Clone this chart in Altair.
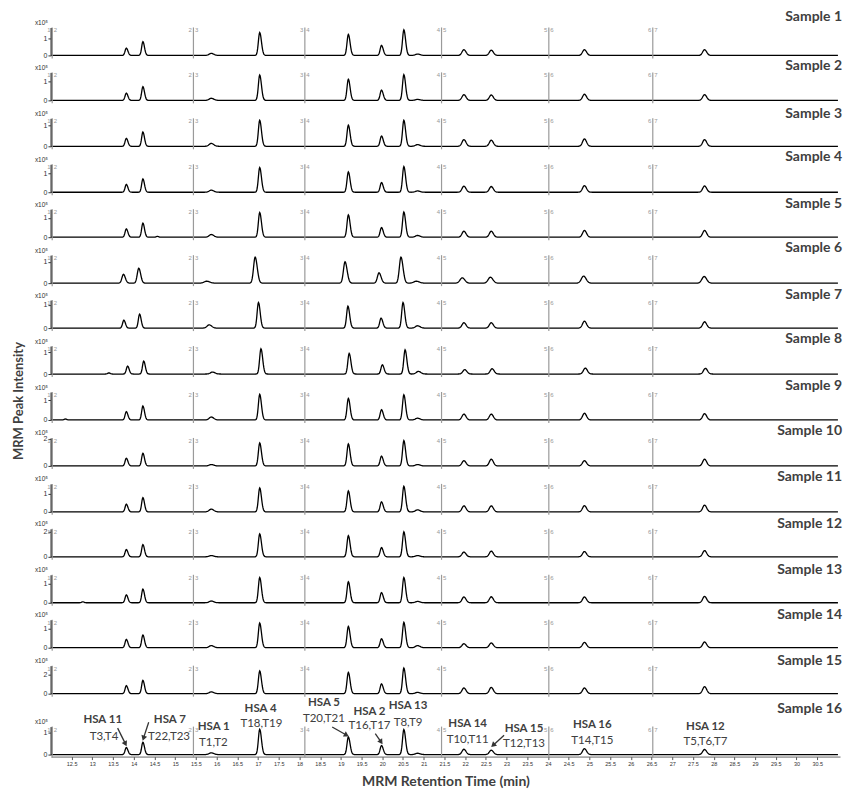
import altair as alt
import numpy as np
import pandas as pd

# ---------------- data ----------------
SAMPLES = [f"Sample {i}" for i in range(1, 17)]

# retention times (min) of the 12 traced peaks
RT_COMMON = [13.82, 14.22, 15.87, 17.04, 19.18, 19.98, 20.52, 20.85, 21.97, 22.63, 24.88, 27.78]
RT_SAMPLE6 = [13.75, 14.12, 15.76, 16.93, 19.10, 19.92, 20.45, 20.82, 21.93, 22.61, 24.86, 27.77]
RT_SAMPLE7 = [13.76, 14.14, 15.82, 17.01, 19.17, 19.97, 20.50, 20.85, 21.97, 22.63, 24.88, 27.78]
RT_SAMPLE8 = [13.85, 14.24, 15.90, 17.07, 19.20, 20.00, 20.55, 20.87, 21.99, 22.65, 24.90, 27.80]

# peak widths (sigma, min) left / right of apex
SIGMA_LEFT = [0.030, 0.030, 0.050, 0.032, 0.032, 0.032, 0.032, 0.050, 0.045, 0.045, 0.045, 0.045]
SIGMA_RIGHT = [0.038, 0.038, 0.060, 0.042, 0.042, 0.042, 0.042, 0.060, 0.050, 0.050, 0.050, 0.050]

# apex intensities (x10^5) per sample, same peak order as RT lists
HEIGHTS = [
    [0.43, 0.81, 0.12, 1.35, 1.24, 0.59, 1.51, 0.08, 0.34, 0.31, 0.34, 0.34],
    [0.38, 0.72, 0.11, 1.33, 1.11, 0.54, 1.35, 0.05, 0.30, 0.28, 0.32, 0.30],
    [0.38, 0.68, 0.14, 1.24, 1.01, 0.49, 1.24, 0.08, 0.32, 0.29, 0.35, 0.32],
    [0.41, 0.70, 0.11, 1.30, 1.07, 0.51, 1.35, 0.07, 0.32, 0.30, 0.35, 0.33],
    [0.43, 0.73, 0.14, 1.28, 1.16, 0.50, 1.31, 0.09, 0.31, 0.31, 0.35, 0.35],
    [0.41, 0.70, 0.09, 1.22, 1.00, 0.48, 1.22, 0.09, 0.25, 0.28, 0.33, 0.31],
    [0.34, 0.60, 0.14, 1.10, 0.94, 0.43, 1.10, 0.10, 0.23, 0.23, 0.30, 0.27],
    [0.36, 0.59, 0.09, 1.15, 0.94, 0.42, 1.10, 0.12, 0.20, 0.24, 0.27, 0.26],
    [0.42, 0.71, 0.15, 1.30, 1.10, 0.52, 1.28, 0.09, 0.30, 0.30, 0.34, 0.32],
    [0.57, 0.94, 0.10, 1.70, 1.63, 0.72, 1.87, 0.10, 0.39, 0.50, 0.39, 0.50],
    [0.42, 0.78, 0.15, 1.31, 1.15, 0.55, 1.40, 0.11, 0.33, 0.33, 0.34, 0.37],
    [0.58, 0.98, 0.10, 1.84, 1.70, 0.74, 2.00, 0.10, 0.38, 0.46, 0.42, 0.50],
    [0.41, 0.71, 0.09, 1.31, 1.09, 0.53, 1.31, 0.07, 0.30, 0.31, 0.30, 0.33],
    [0.44, 0.67, 0.11, 1.30, 1.12, 0.47, 1.33, 0.11, 0.21, 0.25, 0.28, 0.30],
    [0.83, 1.38, 0.18, 2.35, 2.21, 1.01, 2.66, 0.13, 0.59, 0.65, 0.59, 0.73],
    [0.32, 0.56, 0.08, 1.15, 0.80, 0.41, 1.14, 0.06, 0.24, 0.20, 0.27, 0.23],
]

# small isolated blips: (sample index, time, intensity)
BLIP_SAMPLE = [4, 7, 8, 12]
BLIP_TIME = [14.57, 13.40, 12.35, 12.77]
BLIP_HEIGHT = [0.04, 0.05, 0.05, 0.05]

# y-axis upper limit and labelled tick per panel (x10^5)
Y_MAX = [1.65, 1.47, 1.33, 1.47, 1.45, 1.31, 1.20, 1.27, 1.42, 2.07, 1.53, 2.24, 1.45, 1.47, 2.90, 1.27]
TICK_VALUE = [1, 1, 1, 1, 1, 1, 1, 1, 1, 2, 1, 2, 1, 1, 2, 1]

# MRM segment boundaries
SEG_TIME = [12.03, 15.44, 18.13, 21.43, 24.02, 26.53]
SEG_LEFT = ["1", "2", "3", "4", "5", "6"]
SEG_RIGHT = ["2", "3", "4", "5", "6", "7"]

X_TICKS = [12.5 + 0.5 * k for k in range(37)]

# annotations on the last panel
ANN_NAME = ["HSA 11", "HSA 7", "HSA 1", "HSA 4", "HSA 5", "HSA 2", "HSA 13", "HSA 14", "HSA 15", "HSA 16", "HSA 12"]
ANN_NAME_T = [13.25, 14.87, 15.93, 17.06, 18.59, 19.69, 20.62, 22.06, 23.42, 25.07, 27.80]
ANN_NAME_Y = [1.56, 1.56, 1.23, 2.09, 2.32, 1.94, 2.20, 1.38, 1.18, 1.33, 1.25]
ANN_SUB = ["T3,T4", "T22,T23", "T1,T2", "T18,T19", "T20,T21", "T16,T17", "T8,T9", "T10,T11", "T12,T13", "T14,T15", "T5,T6,T7"]
ANN_SUB_T = [13.28, 14.85, 15.92, 17.08, 18.59, 19.69, 20.62, 22.06, 23.42, 25.07, 27.80]
ANN_SUB_Y = [0.80, 0.80, 0.53, 1.41, 1.60, 1.30, 1.45, 0.65, 0.50, 0.62, 0.55]

ARROW_T1 = [13.61, 14.36, 18.79, 19.83, 22.94]
ARROW_Y1 = [1.20, 1.47, 1.25, 0.95, 0.88]
ARROW_T2 = [13.79, 14.24, 19.12, 19.96, 22.69]
ARROW_Y2 = [0.52, 0.78, 0.90, 0.60, 0.45]
ARROW_ANGLE = [153, 198, 119, 146, 228]

# ---------------- layout / style ----------------
W = 790
PLOT_H = 28
# whole-pixel panel heights (panel 1 holds only its plot; others include the gap above)
PANEL_H = [28, 45, 46, 46, 45, 46, 45, 46, 46, 46, 46, 45, 46, 45, 46, 61]
LABEL_GAP = [10.5, 6.3, 4.5, 7, 5.5, 6.7, 5.5, 7.4, 6, 7.3, 7, 4.7, 4.7, 4.5, 4.5, 17.7]
FONT = "Lato"
TXT = "#404040"


def trace(i):
    rts = RT_COMMON
    widen = 1.0
    if i == 5:
        rts, widen = RT_SAMPLE6, 1.2
    elif i == 6:
        rts = RT_SAMPLE7
    elif i == 7:
        rts = RT_SAMPLE8
    pts = [np.arange(12.0, 31.06, 0.25)]
    for rt in rts:
        pts.append(np.arange(rt - 0.35, rt + 0.35, 0.01))
    blips = [(t, h) for s, t, h in zip(BLIP_SAMPLE, BLIP_TIME, BLIP_HEIGHT) if s == i]
    for t, _ in blips:
        pts.append(np.arange(t - 0.2, t + 0.2, 0.01))
    t = np.unique(np.round(np.concatenate(pts), 3))
    t = t[(t >= 12.0) & (t <= 31.05)]
    v = np.zeros_like(t)
    for rt, h, sl, sr in zip(rts, HEIGHTS[i], SIGMA_LEFT, SIGMA_RIGHT):
        sig = np.where(t < rt, sl, sr) * widen
        v += h * np.exp(-0.5 * ((t - rt) / sig) ** 2)
    for bt, bh in blips:
        v += bh * np.exp(-0.5 * ((t - bt) / 0.03) ** 2)
    return pd.DataFrame({"t": t, "v": v})


seg_df = pd.DataFrame({"t": SEG_TIME, "left": SEG_LEFT, "right": SEG_RIGHT})
xs = alt.Scale(domain=[12.0, 31.05], nice=False, zero=False)


def panel(i):
    H = PANEL_H[i]
    top = H - PLOT_H
    ys = alt.Scale(domain=[0, Y_MAX[i]], range=[H, top], nice=False, zero=True)
    last = i == 15
    if last:
        xaxis = alt.Axis(values=X_TICKS, format=".1~f", labelFontSize=5.5, labelColor="#333",
                         tickSize=3, tickColor="#555", domainColor="#666", offset=2,
                         labelPadding=2, grid=False, title="MRM Retention Time (min)",
                         titleFont=FONT, titleFontSize=14, titleFontWeight="bold",
                         titleColor=TXT, titlePadding=7)
    else:
        xaxis = None
    yaxis = alt.Axis(values=[0, TICK_VALUE[i]], format="d", labelFontSize=7, labelColor="#333",
                     labelPadding=1, tickSize=3, tickColor="#333", domainColor="#444",
                     domainWidth=2, grid=False,
                     title="x10⁵", titleAngle=0, titleX=-10, titleY=top - 5, titleFontSize=6.5,
                     titleFontWeight="normal", titleAlign="center", titleBaseline="middle",
                     titleColor="#333")
    X = lambda f: alt.X(f, scale=xs, axis=xaxis)
    Y = lambda f: alt.Y(f, scale=ys, axis=yaxis)
    rules = alt.Chart(seg_df).mark_rule(color="#9a9a9a", strokeWidth=1.2).encode(
        x=X("t:Q"), y=alt.value(top), y2=alt.value(H + 3))
    ldig = alt.Chart(seg_df).mark_text(fontSize=6, color="#999", align="right", baseline="middle",
                                       dx=-1.5).encode(
        x=X("t:Q"), y=alt.value(top + 3), text="left:N")
    rdig = alt.Chart(seg_df).mark_text(fontSize=6, color="#999", align="left", baseline="middle",
                                       dx=1.5).encode(
        x=X("t:Q"), y=alt.value(top + 3), text="right:N")
    line = alt.Chart(trace(i)).mark_line(color="black", strokeWidth=1.3).encode(
        x=X("t:Q"), y=Y("v:Q"))
    lab = alt.Chart(pd.DataFrame({"s": [SAMPLES[i]]})).mark_text(
        align="right", baseline="middle", fontSize=14, fontWeight="bold", font=FONT, color=TXT
    ).encode(x=alt.value(W + 2), y=alt.value(top - LABEL_GAP[i]), text="s:N")
    layers = [line, rules, ldig, rdig, lab]
    if i == 8:
        ytitle = alt.Chart(pd.DataFrame({"s": ["MRM Peak Intensity"]})).mark_text(
            angle=270, align="center", baseline="middle", fontSize=13, fontWeight="bold",
            font=FONT, color=TXT).encode(x=alt.value(-32), y=alt.value(27), text="s:N")
        layers.append(ytitle)
    if last:
        ann = pd.DataFrame({"name": ANN_NAME, "t": ANN_NAME_T, "y": ANN_NAME_Y,
                            "sub": ANN_SUB, "st": ANN_SUB_T, "sy": ANN_SUB_Y})
        arr = pd.DataFrame({"t1": ARROW_T1, "y1": ARROW_Y1, "t2": ARROW_T2, "y2": ARROW_Y2,
                            "ang": ARROW_ANGLE})
        names = alt.Chart(ann).mark_text(fontSize=11.5, fontWeight="bold", font=FONT, color=TXT,
                                         baseline="middle").encode(
            x=X("t:Q"), y=Y("y:Q"), text="name:N")
        subs = alt.Chart(ann).mark_text(fontSize=11.5, font=FONT, color=TXT,
                                        baseline="middle").encode(
            x=X("st:Q"), y=Y("sy:Q"), text="sub:N")
        shafts = alt.Chart(arr).mark_rule(color="#333", strokeWidth=1.3).encode(
            x=X("t1:Q"), y=Y("y1:Q"), x2="t2:Q", y2="y2:Q")
        heads = alt.Chart(arr).mark_point(shape="triangle", filled=True, size=35, color="#333",
                                          opacity=1).encode(
            x=X("t2:Q"), y=Y("y2:Q"), angle=alt.Angle("ang:Q", scale=None))
        layers += [names, subs, shafts, heads]
    return alt.layer(*layers).properties(width=W, height=H)


chart = alt.vconcat(*[panel(i) for i in range(16)], spacing=0, bounds="flush").resolve_scale(
    x="independent", y="independent"
).configure_view(stroke=None).properties(
    padding={"left": 4, "top": 1, "right": 2, "bottom": 0}
)

chart.save("out.html", embed_options={"renderer": "svg", "actions": False})
